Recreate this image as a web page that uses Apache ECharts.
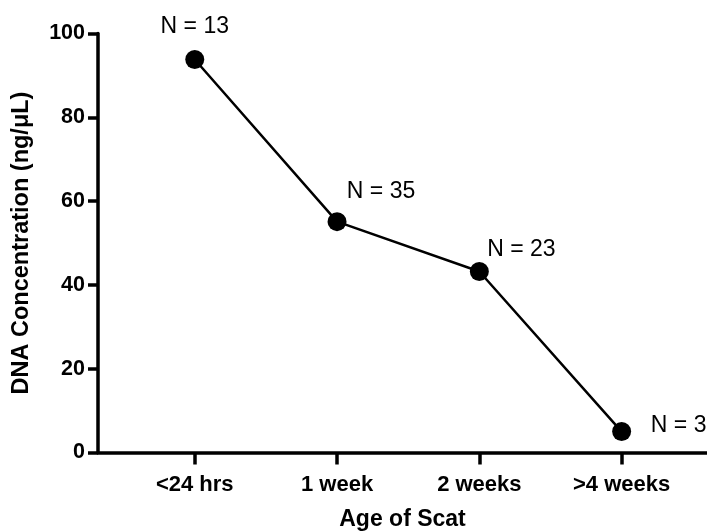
<!DOCTYPE html>
<html>
<head>
<meta charset="utf-8">
<script src="https://cdn.jsdelivr.net/npm/echarts@6/dist/echarts.min.js"></script>
<style>html,body{margin:0;padding:0;background:#fff}#c{width:707px;height:531px}</style>
</head>
<body>
<div id="c"></div>
<script>
var categories = ['<24 hrs', '1 week', '2 weeks', '>4 weeks'];
var concentration = [93.8, 55.1, 43.2, 5.0];
var sampleLabels = ['N = 13', 'N = 35', 'N = 23', 'N = 3'];
var yTicks = [0, 20, 40, 60, 80, 100];

var labelOffsets = [[0, -33], [44, -30], [42, -22], [57, -6]];

var chart = echarts.init(document.getElementById('c'), null, {renderer: 'canvas'});
var font = '"Liberation Sans", Arial, sans-serif';
chart.setOption({
  animation: false,
  backgroundColor: '#fff',
  grid: {left: 98, right: 0, top: 33.5, bottom: 78.5, containLabel: false, outerBoundsMode: 'none'},
  xAxis: {
    type: 'value', min: -0.68, max: 3.6,
    name: 'Age of Scat', nameLocation: 'middle', nameGap: 56,
    nameTextStyle: {fontFamily: font, fontWeight: 'bold', fontSize: 23, color: '#000'},
    axisLine: {show: true, onZero: false, lineStyle: {color: '#000', width: 3.5}},
    axisTick: {show: true, length: 12, lineStyle: {color: '#000', width: 3.5}, customValues: categories.map(function(c, i){return i;})},
    axisLabel: {fontFamily: font, fontWeight: 'bold', fontSize: 22, color: '#000', margin: 21,
      customValues: categories.map(function(c, i){return i;}),
      formatter: function(v){ var i = Math.round(v); return categories[i] || ''; }},
    splitLine: {show: false}
  },
  yAxis: {
    type: 'value', min: 0, max: 100, interval: 20,
    name: 'DNA Concentration (ng/μL)', nameLocation: 'middle', nameGap: 64,
    nameTextStyle: {fontFamily: font, fontWeight: 'bold', fontSize: 23.5, color: '#000'},
    axisLine: {show: true, onZero: false, lineStyle: {color: '#000', width: 3.5}},
    axisTick: {show: true, length: 10, lineStyle: {color: '#000', width: 3.5}},
    axisLabel: {fontFamily: font, fontWeight: 'bold', fontSize: 21.5, color: '#000', margin: 13,
      customValues: yTicks},
    splitLine: {show: false}
  },
  series: [{
    type: 'line',
    data: concentration.map(function(v, i){
      return {value: [i, v], label: {offset: labelOffsets[i]}};
    }),
    symbol: 'circle', symbolSize: 19,
    itemStyle: {color: '#000'},
    lineStyle: {color: '#000', width: 2.5},
    label: {show: true, position: 'inside', fontFamily: font, fontSize: 23, color: '#000',
      formatter: function(p){ return sampleLabels[p.dataIndex]; }}
  }]
});
</script>
</body>
</html>
